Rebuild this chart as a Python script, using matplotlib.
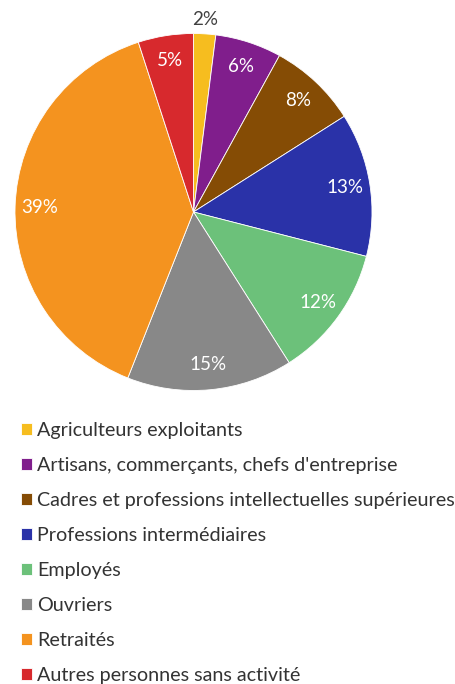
import matplotlib.pyplot as plt

plt.rcParams['font.family'] = ['Lato', 'DejaVu Sans']

categories = ['Agriculteurs exploitants',
              'Artisans, commerçants, chefs d\'entreprise',
              'Cadres et professions intellectuelles supérieures',
              'Professions intermédiaires',
              'Employés',
              'Ouvriers',
              'Retraités',
              'Autres personnes sans activité']
shares = [2, 6, 8, 13, 12, 15, 39, 5]
colors = ['#F6BD1F', '#801E8C', '#854C05', '#2A32A8',
          '#6CC17A', '#888888', '#F4931F', '#D7292D']

fig = plt.figure(figsize=(4.56, 6.84), dpi=100)
ax = fig.add_axes([15/456, 1 - 390.5/684, 357/456, 357/684])

wedges, texts, autotexts = ax.pie(
    shares, colors=colors, startangle=90, counterclock=False,
    autopct='%d%%', pctdistance=0.86, radius=1,
    wedgeprops=dict(edgecolor='white', linewidth=0.6),
    textprops=dict(color='white', fontsize=13.5))

# the smallest slice gets its label outside the pie
autotexts[0].set_color('#404040')
x, y = autotexts[0].get_position()
autotexts[0].set_position((x * 1.08 / 0.86, y * 1.08 / 0.86))

ax.set_xlim(-1, 1)
ax.set_ylim(-1, 1)
ax.set_aspect('equal')

fig.legend(wedges, categories, loc='upper left',
           bbox_to_anchor=(21/456, 1 - 422/684),
           frameon=False, fontsize=14.2, handlelength=0.56, handleheight=0.56,
           handletextpad=0.25, labelspacing=0.91, borderaxespad=0,
           borderpad=0, labelcolor='#333333')

fig.savefig('out.png', dpi=100)
